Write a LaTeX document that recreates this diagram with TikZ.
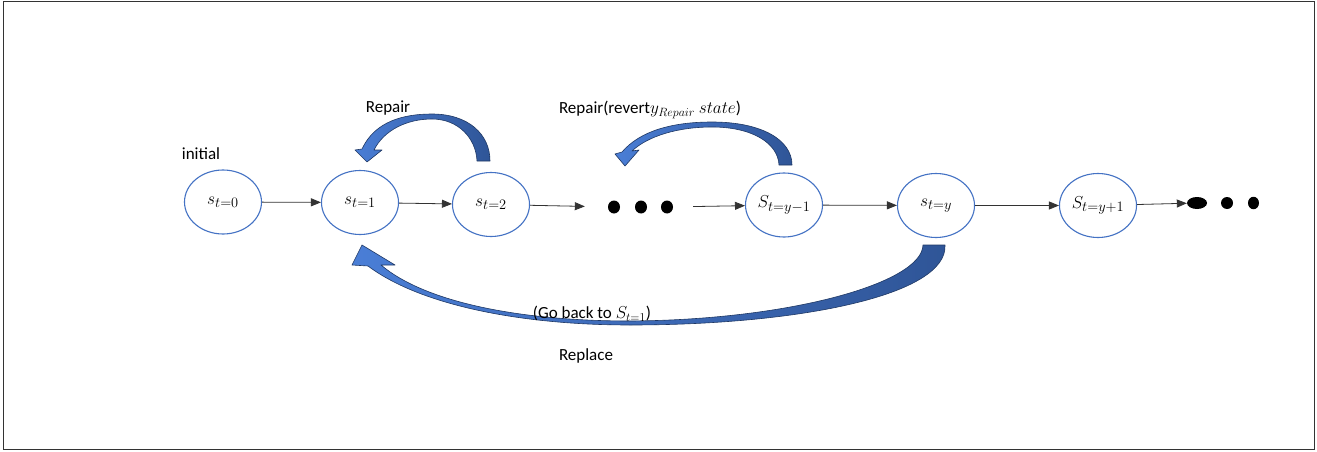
\documentclass[tikz,border=0pt]{standalone}
\usepackage{fontspec}
\setmainfont{Carlito}
\DeclareMathSizes{19}{19}{14.5}{11}
\DeclareMathSizes{17}{17}{13}{10}
\usetikzlibrary{arrows.meta,shapes.geometric}
\definecolor{ellblue}{HTML}{4472C4}
\definecolor{arrlight}{HTML}{4A7ED6}
\definecolor{arrdark}{HTML}{2F5597}
\definecolor{arredge}{HTML}{1F3864}
\definecolor{linegray}{HTML}{333333}
\begin{document}
\begin{tikzpicture}[x=1pt,y=-1pt,
  state/.style={ellipse,draw=ellblue,line width=1.1pt,minimum width=77pt,minimum height=64pt,inner sep=0pt,font=\fontsize{19}{22}\selectfont},
  conn/.style={draw=linegray,line width=0.8pt,-{Triangle[length=10pt,width=8pt]}},
  dotnode/.style={ellipse,fill=black,inner sep=0pt,minimum width=12pt,minimum height=13pt},
  lbl/.style={font=\fontsize{17}{20}\selectfont,inner sep=0pt},
  block/.style={left color=arrlight,right color=arrdark,draw=arredge,line width=0.6pt,line join=round}]
\fill[white] (0,0) rectangle (1317,452);
\useasboundingbox (0,0) rectangle (1317,452);
\draw[line width=1pt,draw=black!80] (3,2) rectangle (1314,449);

% states
\node[state] (s0) at (223,202) {$s_{t=0}$};
\node[state] (s1) at (360,202.5) {$s_{t=1}$};
\node[state] (s2) at (491,204.5) {$s_{t=2}$};
\node[dotnode] (d1) at (614,207) {};
\node[dotnode] (d2) at (641,207) {};
\node[dotnode] (d3) at (667,207) {};
\node[state] (sym) at (784,205) {$S_{t=y-1}$};
\node[state] (sy) at (936,205.5) {$s_{t=y}$};
\node[state] (syp) at (1098,205.5) {$S_{t=y+1}$};
\node[dotnode,minimum width=20pt,minimum height=12pt] (e1) at (1197,203) {};
\node[dotnode,minimum width=12pt,minimum height=12pt] (e2) at (1227,203) {};
\node[dotnode,minimum width=11pt,minimum height=12.5pt] (e3) at (1253.5,203) {};

% connectors
\draw[conn] (s0) -- (s1);
\draw[conn] (s1) -- (s2);
\draw[conn,shorten >=23pt] (s2) -- (d1);
\draw[conn,shorten <=20pt] (d3) -- (sym);
\draw[conn] (sym) -- (sy);
\draw[conn] (sy) -- (syp);
\draw[conn] (syp) -- (e1);

% curved block arrows
\path[block] (362,149) .. controls (375,121) and (404,114) .. (432,114)
  .. controls (468,114) and (490,134) .. (490,161) -- (477,161)
  .. controls (476,138) and (458,119) .. (432,119)
  .. controls (407,119) and (384,130) .. (374,150)
  -- (382,150) -- (367,162) -- (355,150) -- cycle;
\path[block] (622,152) .. controls (640,131) and (672,122) .. (712,122)
  .. controls (762,122) and (792,140) .. (792,165) -- (779,165)
  .. controls (778,143) and (752,127) .. (712,127)
  .. controls (678,127) and (648,136) .. (632,151)
  -- (639,150) -- (625,166) -- (615,154) -- cycle;
\path[block] (368,266) .. controls (420,305) and (520,325) .. (630,325)
  .. controls (800,325) and (948,295) .. (945,245) -- (923,245)
  .. controls (922,283) and (790,320) .. (630,321)
  .. controls (522,321) and (426,303) .. (381,265)
  -- (395,265) -- (362,245) -- (352,265) -- cycle;

% labels
\node[lbl] (linit) at (201,154) {initial};
\node[lbl] (lrep1) at (388,108) {Repair};
\node[lbl] (lrep2) at (650,110) {Repair(revert$y_{Repair}\ state$)};
\node[lbl] (lgo) at (592,314) {(Go back to $S_{t=1}$)};
\node[lbl] (lrepl) at (586,356) {Replace};
\end{tikzpicture}
\end{document}
